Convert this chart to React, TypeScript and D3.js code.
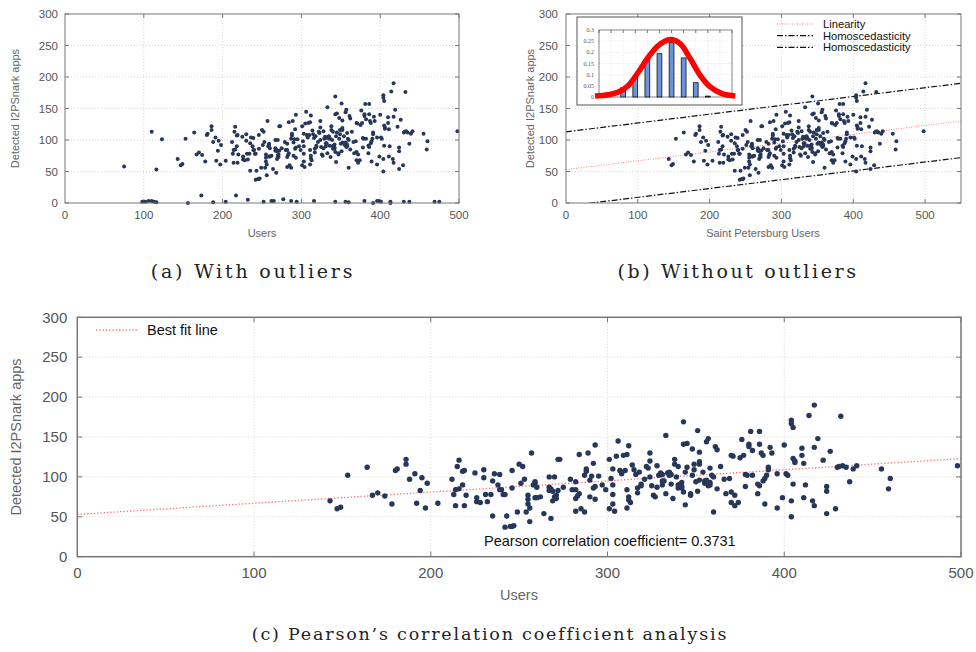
import { useEffect, useRef } from "react"
import * as d3 from "d3"

// axis ticks
const userTicks = [0, 100, 200, 300, 400, 500]
const appTicks = [0, 50, 100, 150, 200, 250, 300]

// (users, detected apps)
const points: [number, number][] = [
  [143, 70], [147, 60], [149, 62], [153, 102], [164, 112], [167, 77], [170, 80], [174, 76], [178, 66], [180, 108],
  [181, 110], [186, 122], [186, 116], [188, 97], [191, 104], [192, 67], [194, 83], [195, 99], [197, 61], [198, 92],
  [204, 67], [212, 97], [213, 78], [214, 84], [215, 113], [216, 121], [216, 85], [218, 90], [218, 107], [219, 108],
  [214, 64], [219, 64], [220, 77], [225, 105], [226, 74], [226, 69], [228, 68], [230, 109], [230, 99], [231, 78],
  [234, 78], [232, 69], [235, 95], [236, 104], [235, 51], [238, 90], [239, 103], [239, 84], [240, 84], [241, 78],
  [242, 78], [242, 37], [243, 51], [245, 38], [246, 38], [247, 39], [246, 108], [246, 86], [249, 56], [250, 116],
  [251, 92], [252, 113], [253, 97], [254, 56], [255, 77], [255, 72], [255, 66], [256, 61], [256, 44], [257, 130],
  [258, 90], [259, 92], [259, 94], [259, 74], [260, 87], [260, 74], [262, 75], [264, 54], [267, 100], [267, 87],
  [267, 83], [268, 48], [268, 85], [269, 82], [269, 70], [270, 100], [270, 75], [271, 77], [271, 73], [272, 122],
  [273, 122], [272, 83], [275, 87], [279, 97], [280, 84], [282, 84], [282, 94], [282, 73], [283, 76], [282, 57],
  [284, 79], [284, 128], [285, 60], [287, 56], [287, 102], [288, 107], [288, 110], [289, 130], [290, 96], [290, 75],
  [291, 101], [292, 86], [292, 117], [293, 88], [293, 72], [293, 140], [295, 101], [297, 90], [299, 84], [301, 60],
  [301, 122], [302, 98], [303, 110], [303, 90], [303, 78], [303, 66], [304, 57], [305, 126], [306, 145], [307, 108],
  [308, 104], [308, 106], [309, 127], [310, 108], [311, 128], [311, 84], [312, 71], [312, 75], [311, 61], [312, 139],
  [313, 68], [314, 115], [315, 109], [316, 103], [317, 86], [317, 80], [318, 106], [319, 89], [319, 91], [321, 97],
  [322, 113], [323, 111], [324, 120], [324, 100], [324, 130],
  [325, 89], [326, 77], [327, 75], [328, 114], [328, 87], [329, 102], [330, 105], [331, 103], [331, 95], [331, 90],
  [332, 95], [333, 79], [333, 152], [334, 105], [335, 102], [335, 106], [336, 103], [336, 91], [337, 73], [338, 122],
  [338, 116], [339, 100], [340, 113], [340, 90], [340, 86], [341, 91], [342, 88], [342, 93], [342, 86], [343, 169],
  [343, 141], [343, 81], [344, 65], [344, 106], [345, 142], [345, 112], [347, 79], [347, 77], [348, 135], [348, 102],
  [349, 116], [349, 109], [350, 94], [351, 158], [351, 82], [352, 131], [352, 119], [352, 116], [352, 96], [354, 106],
  [355, 95], [355, 92], [356, 144], [356, 96], [357, 89], [357, 148], [358, 93], [358, 111], [358, 90], [359, 102],
  [360, 56], [360, 100], [361, 138], [362, 134], [362, 85], [364, 113], [366, 97], [367, 79], [369, 98], [370, 127],
  [370, 81], [370, 68], [371, 126], [372, 77], [372, 64], [374, 68], [375, 124], [376, 147], [377, 127], [378, 88],
  [378, 103], [379, 102], [380, 141], [380, 138], [381, 157], [382, 102], [382, 133], [385, 91], [385, 79], [386, 157],
  [386, 141], [386, 89], [387, 130], [388, 95], [388, 127], [389, 98], [389, 66], [390, 102], [391, 109], [391, 112],
  [392, 137], [393, 130], [396, 104], [396, 61], [399, 74], [400, 140], [401, 104], [402, 102], [404, 171], [404, 167],
  [404, 70], [404, 50], [405, 162], [405, 91], [405, 123], [406, 120], [406, 118], [410, 136], [410, 127], [411, 117],
  [411, 74], [412, 90], [414, 177], [416, 70], [417, 137], [417, 190], [417, 64],
  [419, 148], [422, 121], [426, 132], [432, 176], [424, 88], [424, 82], [424, 54], [429, 60], [430, 112], [431, 113],
  [433, 114], [435, 112], [437, 94], [439, 110], [441, 114], [455, 110], [460, 98], [459, 85], [498, 114],
]

// extra points only shown in panel (a)
const outliers: [number, number][] = [
  [75, 58], [110, 113], [116, 53], [123, 101],
  [98, 2], [102, 2], [106, 3], [110, 3], [113, 2], [116, 1], [156, 0], [173, 12], [188, 1], [204, 2],
  [217, 12], [232, 5], [252, 2], [262, 3], [265, 3], [277, 6], [287, 3], [294, 2], [316, 3], [343, 2],
  [356, 2], [360, 1], [380, 3], [391, 0], [396, 3], [398, 3], [401, 2], [413, 2], [413, 0], [430, 2],
  [437, 2], [469, 2], [475, 2],
]

// fitted lines
const fitIntercept = 53
const fitSlope = 0.14
const homoIntercepts = [113, -5]

// inset histogram
const histBins = [2, 3, 4, 5, 6, 7, 8, 9]
const histFreq = [0.042, 0.09, 0.167, 0.194, 0.243, 0.175, 0.064, 0.004]
const normalCurve: [number, number][] = [
  [-0.33, 0.004], [0.77, 0.01], [1.6, 0.022], [2.43, 0.052], [3.26, 0.112], [4.09, 0.179], [4.92, 0.231],
  [5.88, 0.257], [6.71, 0.239], [7.54, 0.172], [8.37, 0.097], [9.2, 0.045], [10.17, 0.015], [11.27, 0.004],
]
const insetTicks = [0, 0.05, 0.1, 0.15, 0.2, 0.25, 0.3]
const insetTickLabels = ["0", "0.05", "0.1", "0.15", "0.2", "0.25", "0.3"]
const insetBinTicks = [0, 1, 2, 3, 4, 5, 6, 7, 8, 9, 10, 11]

const SANS = "Liberation Sans, Arial, sans-serif"
const SERIF = "DejaVu Serif, serif"
const DOT = "#27375a"

export default function App() {
  const svgRef = useRef<SVGSVGElement>(null)

  useEffect(() => {
    if (!svgRef.current) return
    const svg = d3.select(svgRef.current)
    svg.selectAll("*").remove()
    const defs = svg.append("defs")

    function panel(id: string, o: any) {
      const x = d3.scaleLinear().domain([0, o.xMax]).range([o.left, o.right])
      const y = d3.scaleLinear().domain([0, 300]).range([o.bottom, o.top])
      const g = svg.append("g")

      defs.append("clipPath").attr("id", "clip-" + id)
        .append("rect").attr("x", o.left).attr("y", o.top)
        .attr("width", o.right - o.left).attr("height", o.bottom - o.top)

      // grid
      g.selectAll(".vg").data(userTicks.filter((t) => t > 0 && x(t) < o.right - 2)).enter()
        .append("line")
        .attr("x1", (d) => x(d)).attr("x2", (d) => x(d))
        .attr("y1", o.top).attr("y2", o.bottom)
        .attr("stroke", "#d6d6cc").attr("stroke-dasharray", "1,2")
      g.selectAll(".hg").data(appTicks.filter((t) => t > 0 && t < 300)).enter()
        .append("line")
        .attr("y1", (d) => y(d)).attr("y2", (d) => y(d))
        .attr("x1", o.left).attr("x2", o.right)
        .attr("stroke", "#d6d6cc").attr("stroke-dasharray", "1,2")

      // ticks (mirrored, inward)
      const tl = o.tick
      userTicks.forEach((t) => {
        if (x(t) <= o.left + 1) return
        g.append("line").attr("x1", x(t)).attr("x2", x(t)).attr("y1", o.bottom).attr("y2", o.bottom - tl).attr("stroke", "#777")
        g.append("line").attr("x1", x(t)).attr("x2", x(t)).attr("y1", o.top).attr("y2", o.top + tl).attr("stroke", "#777")
      })
      appTicks.forEach((t) => {
        g.append("line").attr("y1", y(t)).attr("y2", y(t)).attr("x1", o.left).attr("x2", o.left + tl).attr("stroke", "#777")
        g.append("line").attr("y1", y(t)).attr("y2", y(t)).attr("x1", o.right).attr("x2", o.right - tl).attr("stroke", "#777")
      })

      // tick labels
      g.selectAll(".xl").data(userTicks).enter().append("text")
        .attr("x", (d) => x(d)).attr("y", o.bottom + o.xLabelOff)
        .attr("text-anchor", "middle").attr("font-family", SANS).attr("font-size", o.tickFont)
        .attr("fill", "#555").text((d) => d)
      g.selectAll(".yl").data(appTicks).enter().append("text")
        .attr("x", o.left - o.yLabelOff).attr("y", (d) => y(d)).attr("dy", "0.35em")
        .attr("text-anchor", "end").attr("font-family", SANS).attr("font-size", o.tickFont)
        .attr("fill", "#555").text((d) => d)

      // axis titles
      g.append("text").attr("x", o.xTitleX).attr("y", o.xTitleY)
        .attr("text-anchor", "middle").attr("font-family", SANS).attr("font-size", o.titleFont)
        .attr("fill", "#666").text(o.xTitle)
      g.append("text")
        .attr("transform", `translate(${o.yTitleX},${(o.top + o.bottom) / 2}) rotate(-90)`)
        .attr("dy", "0.35em")
        .attr("text-anchor", "middle").attr("font-family", SANS).attr("font-size", o.titleFont)
        .attr("fill", "#666").text("Detected I2PSnark apps")

      return { g, x, y, clip: `url(#clip-${id})` }
    }

    function frame(g: any, o: any, w: number) {
      g.append("rect").attr("x", o.left).attr("y", o.top)
        .attr("width", o.right - o.left).attr("height", o.bottom - o.top)
        .attr("fill", "none").attr("stroke", "#777").attr("stroke-width", w)
    }

    function fitLine(p: any, intercept: number, xMax: number) {
      return p.g.append("line")
        .attr("clip-path", p.clip)
        .attr("x1", p.x(0)).attr("y1", p.y(intercept))
        .attr("x2", p.x(xMax)).attr("y2", p.y(intercept + fitSlope * xMax))
    }

    // ---------- (a) with outliers ----------
    const oa = {
      left: 65, right: 459, top: 14, bottom: 203, xMax: 500, tick: 4,
      tickFont: 11.5, titleFont: 11, xLabelOff: 16, yLabelOff: 7,
      xTitle: "Users", xTitleX: 262, xTitleY: 237, yTitleX: 15,
    }
    const pa = panel("a", oa)
    pa.g.selectAll(".pt").data(points.concat(outliers)).enter().append("circle")
      .attr("cx", (d) => pa.x(d[0])).attr("cy", (d) => pa.y(d[1])).attr("r", 2).attr("fill", DOT)
    frame(pa.g, oa, 1)

    // ---------- (b) without outliers ----------
    const ob = {
      left: 566, right: 961, top: 14, bottom: 203, xMax: 550, tick: 4,
      tickFont: 11.5, titleFont: 11, xLabelOff: 16, yLabelOff: 8,
      xTitle: "Saint Petersburg Users", xTitleX: 763, xTitleY: 237, yTitleX: 530,
    }
    const pb = panel("b", ob)
    fitLine(pb, fitIntercept, 550).attr("stroke", "#ff7f7f").attr("stroke-width", 1).attr("stroke-dasharray", "1,1.5")
    homoIntercepts.forEach((c) => {
      fitLine(pb, c, 550).attr("stroke", "#111").attr("stroke-width", 1.2).attr("stroke-dasharray", "6,2,1.5,2")
    })
    pb.g.selectAll(".pt").data(points).enter().append("circle")
      .attr("cx", (d) => pb.x(d[0])).attr("cy", (d) => pb.y(d[1])).attr("r", 2).attr("fill", DOT)
    frame(pb.g, ob, 1)

    // legend (b)
    const legB = [
      { label: "Linearity", stroke: "#ff7f7f", dash: "1,1.5", w: 1 },
      { label: "Homoscedasticity", stroke: "#111", dash: "6,2,1.5,2", w: 1.2 },
      { label: "Homoscedasticity", stroke: "#111", dash: "6,2,1.5,2", w: 1.2 },
    ]
    legB.forEach((l, i) => {
      const ly = 24 + i * 11.7
      pb.g.append("line").attr("x1", 777).attr("x2", 813).attr("y1", ly).attr("y2", ly)
        .attr("stroke", l.stroke).attr("stroke-width", l.w).attr("stroke-dasharray", l.dash)
      pb.g.append("text").attr("x", 823).attr("y", ly).attr("dy", "0.35em")
        .attr("font-family", SANS).attr("font-size", 11.2).attr("fill", "#111").text(l.label)
    })

    // inset histogram
    const ins = pb.g.append("g")
    ins.append("rect").attr("x", 577).attr("y", 17).attr("width", 165).attr("height", 88)
      .attr("fill", "#fff").attr("stroke", "#555").attr("stroke-width", 1)
    const ix = d3.scaleLinear().domain([0, 11]).range([599, 732])
    const iy = d3.scaleLinear().domain([0, 0.3]).range([97, 30])
    insetTicks.forEach((t, i) => {
      if (t > 0 && t < 0.3) {
        ins.append("line").attr("x1", 599).attr("x2", 732).attr("y1", iy(t)).attr("y2", iy(t))
          .attr("stroke", "#ddd").attr("stroke-dasharray", "1,1.5").attr("stroke-width", 0.7)
      }
      ins.append("text").attr("x", 594).attr("y", iy(t)).attr("dy", "0.35em")
        .attr("text-anchor", "end").attr("font-family", "Liberation Serif, serif")
        .attr("font-size", 6).attr("fill", "#555").text(insetTickLabels[i])
    })
    insetBinTicks.forEach((t) => {
      if (t > 0 && t < 11) {
        ins.append("line").attr("x1", ix(t)).attr("x2", ix(t)).attr("y1", 30).attr("y2", 97)
          .attr("stroke", "#ddd").attr("stroke-dasharray", "1,1.5").attr("stroke-width", 0.7)
      }
      ins.append("line").attr("x1", ix(t)).attr("x2", ix(t)).attr("y1", 30).attr("y2", 33)
        .attr("stroke", "#555").attr("stroke-width", 0.8)
    })
    ins.append("rect").attr("x", 599).attr("y", 30).attr("width", 133).attr("height", 67)
      .attr("fill", "none").attr("stroke", "#666").attr("stroke-width", 0.8)
    ins.selectAll(".bar").data(histBins).enter().append("rect")
      .attr("x", (d) => ix(d) - 2.4).attr("width", 4.8)
      .attr("y", (d, i) => iy(histFreq[i])).attr("height", (d, i) => 97 - iy(histFreq[i]))
      .attr("fill", "#6d92dc").attr("stroke", "#111").attr("stroke-width", 0.8)
    ins.append("path")
      .attr("d", d3.line().x((d) => ix(d[0])).y((d) => iy(d[1])).curve(d3.curveCatmullRom)(normalCurve))
      .attr("fill", "none").attr("stroke", "#ff0000").attr("stroke-width", 5.5)

    // ---------- (c) Pearson ----------
    const oc = {
      left: 77.3, right: 961, top: 317.3, bottom: 556.7, xMax: 500, tick: 5,
      tickFont: 15, titleFont: 14.5, xLabelOff: 21, yLabelOff: 10,
      xTitle: "Users", xTitleX: 519, xTitleY: 600, yTitleX: 16,
    }
    const pc = panel("c", oc)
    fitLine(pc, fitIntercept, 500).attr("stroke", "#ff6f6f").attr("stroke-width", 1.3).attr("stroke-dasharray", "1.3,2")
    pc.g.selectAll(".pt").data(points).enter().append("circle")
      .attr("cx", (d) => pc.x(d[0])).attr("cy", (d) => pc.y(d[1])).attr("r", 2.7).attr("fill", DOT)
    frame(pc.g, oc, 1.5)

    pc.g.append("line").attr("x1", 96).attr("x2", 138).attr("y1", 330).attr("y2", 330)
      .attr("stroke", "#ff6f6f").attr("stroke-width", 1.3).attr("stroke-dasharray", "1.3,2")
    pc.g.append("text").attr("x", 147).attr("y", 330).attr("dy", "0.35em")
      .attr("font-family", SANS).attr("font-size", 14.5).attr("fill", "#111").text("Best fit line")
    pc.g.append("text").attr("x", 484).attr("y", 541).attr("dy", "0.35em")
      .attr("font-family", SANS).attr("font-size", 14.5).attr("fill", "#111")
      .text("Pearson correlation coefficient= 0.3731")

    // captions
    const caps = [
      { t: "(a)  With outliers", x: 253, y: 278, s: 19, ls: 2.8 },
      { t: "(b)  Without outliers", x: 738, y: 278, s: 19, ls: 2.6 },
      { t: "(c)  Pearson’s correlation coefficient analysis", x: 490, y: 640, s: 17.5, ls: 1.8 },
    ]
    caps.forEach((c) => {
      svg.append("text").attr("x", c.x).attr("y", c.y).attr("text-anchor", "middle")
        .attr("font-family", SERIF).attr("font-size", c.s).attr("letter-spacing", c.ls)
        .attr("fill", "#222").text(c.t)
    })
  }, [])

  return (
    <svg
      ref={svgRef}
      width={976}
      height={652}
      style={{ position: "absolute", left: 0, top: 0, background: "#fff" }}
    />
  )
}
